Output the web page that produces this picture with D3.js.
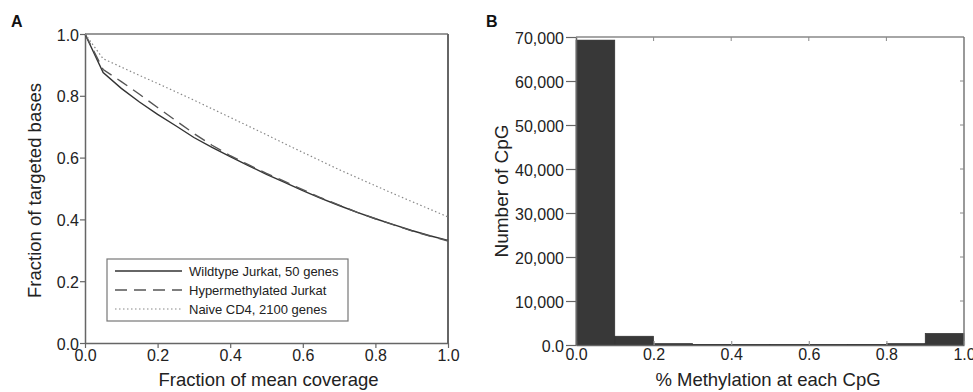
<!DOCTYPE html>
<html><head><meta charset="utf-8">
<script src="https://cdn.jsdelivr.net/npm/d3@7"></script>
<style>
body{margin:0;background:#fff;}
svg{display:block;font-family:"Liberation Sans",Arial,sans-serif;}
</style></head>
<body><svg id="c" width="973" height="392"></svg>
<script>
// Panel A data
const coverageX = [0,0.05,0.1,0.15,0.2,0.25,0.3,0.35,0.4,0.45,0.5,0.55,0.6,0.65,0.7,0.75,0.8,0.85,0.9,0.95,1.0];
const wildtype = [1,0.875,0.824,0.78,0.74,0.703,0.665,0.633,0.603,0.574,0.546,0.52,0.493,0.468,0.445,0.423,0.402,0.383,0.364,0.347,0.332];
const hyper = [1,0.885,0.846,0.805,0.762,0.72,0.678,0.64,0.606,0.577,0.549,0.523,0.496,0.47,0.446,0.423,0.402,0.382,0.363,0.346,0.33];
const naive = [1,0.92,0.893,0.866,0.84,0.813,0.786,0.758,0.73,0.702,0.674,0.645,0.617,0.589,0.561,0.535,0.509,0.483,0.458,0.433,0.408];
const seriesNames = ["Wildtype Jurkat, 50 genes","Hypermethylated Jurkat","Naive CD4, 2100 genes"];
const aTicks = [0,0.2,0.4,0.6,0.8,1.0];
const aTickLabels = ["0.0","0.2","0.4","0.6","0.8","1.0"];
// Panel B data
const binStarts = [0,0.1,0.2,0.3,0.4,0.5,0.6,0.7,0.8,0.9];
const binCounts = [69300,2000,350,150,120,120,120,150,350,2650];
const bYTicks = [0,10000,20000,30000,40000,50000,60000,70000];
const bYTickLabels = ["0.0","10,000","20,000","30,000","40,000","50,000","60,000","70,000"];
const bXTicks = [0,0.2,0.4,0.6,0.8,1.0];
const bXTickLabels = ["0.0","0.2","0.4","0.6","0.8","1.0"];

const svg = d3.select("#c");
const axisCol = "#666";
const textCol = "#222";
const tickFont = "16px";
const titleFont = "18.5px";

// ---------- Panel A ----------
const A = {l:85, r:448, t:34, b:343};
const xA = d3.scaleLinear().domain([0,1]).range([A.l, A.r]);
const yA = d3.scaleLinear().domain([0,1]).range([A.b, A.t]);
const gA = svg.append("g");
gA.append("line").attr("x1",A.l).attr("x2",A.r).attr("y1",A.t).attr("y2",A.t).attr("stroke","#777").attr("stroke-width",1.5);
gA.append("line").attr("x1",A.r).attr("x2",A.r).attr("y1",A.t).attr("y2",A.b).attr("stroke","#666").attr("stroke-width",2);
const axAx = gA.append("g").attr("transform",`translate(0,${A.b})`)
  .call(d3.axisBottom(xA).tickValues(aTicks).tickFormat((d,i)=>aTickLabels[i]).tickSize(5).tickPadding(2).tickSizeOuter(0));
const axAy = gA.append("g").attr("transform",`translate(${A.l},0)`)
  .call(d3.axisLeft(yA).tickValues(aTicks).tickFormat((d,i)=>aTickLabels[i]).tickSize(5).tickPadding(1).tickSizeOuter(0));
[axAx,axAy].forEach(a=>{
  a.select(".domain").attr("stroke",axisCol).attr("stroke-width",1.5);
  a.selectAll(".tick line").attr("stroke",axisCol).attr("stroke-width",1.2);
  a.selectAll("text").attr("fill",textCol).style("font-size",tickFont);
});
axAx.selectAll("text").attr("y",18).attr("dy",0);
axAy.selectAll("text").attr("dy","0.38em");

const styles = [
  {stroke:"#333", w:1.4, dash:null},
  {stroke:"#555", w:1.4, dash:"12,7"},
  {stroke:"#888", w:1.2, dash:"1.5,2.5"}
];
const seriesData = [wildtype, hyper, naive];
const line = d3.line().x((d,i)=>xA(coverageX[i])).y(d=>yA(d));
seriesData.forEach((s,k)=>{
  gA.append("path").datum(s).attr("d",line).attr("fill","none")
    .attr("stroke",styles[k].stroke).attr("stroke-width",styles[k].w)
    .attr("stroke-dasharray",styles[k].dash);
});
// legend
const leg = gA.append("g");
leg.append("rect").attr("x",107).attr("y",259).attr("width",241).attr("height",62)
  .attr("fill","#fff").attr("stroke","#777").attr("stroke-width",1.2);
seriesNames.forEach((n,k)=>{
  const y = 271 + k*19;
  leg.append("line").attr("x1",115).attr("x2",182).attr("y1",y).attr("y2",y)
    .attr("stroke",styles[k].stroke).attr("stroke-width",styles[k].w).attr("stroke-dasharray",styles[k].dash);
  leg.append("text").attr("x",189).attr("y",y+5).text(n).attr("fill",textCol).style("font-size","13px");
});
gA.append("text").attr("x",(A.l+A.r)/2+2).attr("y",386).attr("text-anchor","middle")
  .text("Fraction of mean coverage").attr("fill",textCol).style("font-size",titleFont);
gA.append("text").attr("transform",`translate(41,${(A.t+A.b)/2+2}) rotate(-90)`).attr("text-anchor","middle")
  .text("Fraction of targeted bases").attr("fill",textCol).style("font-size",titleFont);
gA.append("text").attr("x",11).attr("y",27).text("A").attr("fill","#111").style("font-size","16px").style("font-weight","bold");

// ---------- Panel B ----------
const B = {l:576, r:964, t:37, b:345};
const xB = d3.scaleLinear().domain([0,1]).range([B.l, B.r]);
const yB = d3.scaleLinear().domain([0,70000]).range([B.b, B.t]);
const gB = svg.append("g");
gB.selectAll("rect.bar").data(binStarts).enter().append("rect").attr("class","bar")
  .attr("x",d=>xB(d)).attr("width",d=>xB(d+0.1)-xB(d))
  .attr("y",(d,i)=>yB(binCounts[i])).attr("height",(d,i)=>B.b-yB(binCounts[i]))
  .attr("fill","#383838").attr("stroke","#2a2a2a").attr("stroke-width",0.6);
gB.append("line").attr("x1",B.l).attr("x2",B.r).attr("y1",B.t).attr("y2",B.t).attr("stroke","#888").attr("stroke-width",1.5);
gB.append("line").attr("x1",B.r).attr("x2",B.r).attr("y1",B.t).attr("y2",B.b).attr("stroke","#777").attr("stroke-width",1.5);
gB.selectAll("line.tt").data(bXTicks.slice(1,-1)).enter().append("line").attr("class","tt")
  .attr("x1",d=>xB(d)).attr("x2",d=>xB(d)).attr("y1",B.t).attr("y2",B.t+4).attr("stroke","#888");
gB.selectAll("line.rt").data(bYTicks.slice(1,-1)).enter().append("line").attr("class","rt")
  .attr("x1",B.r).attr("x2",B.r-4).attr("y1",d=>yB(d)).attr("y2",d=>yB(d)).attr("stroke","#888");
const axBx = gB.append("g").attr("transform",`translate(0,${B.b})`)
  .call(d3.axisBottom(xB).tickValues(bXTicks).tickFormat((d,i)=>bXTickLabels[i]).tickSize(-4).tickSizeOuter(0));
const axBy = gB.append("g").attr("transform",`translate(${B.l},0)`)
  .call(d3.axisLeft(yB).tickValues(bYTicks).tickFormat((d,i)=>bYTickLabels[i]).tickSize(10).tickPadding(2).tickSizeOuter(0));
[axBx,axBy].forEach(a=>{
  a.select(".domain").attr("stroke",axisCol).attr("stroke-width",1.5);
  a.selectAll(".tick line").attr("stroke",axisCol).attr("stroke-width",1.2);
  a.selectAll("text").attr("fill",textCol).style("font-size",tickFont);
});
axBx.selectAll(".tick line").attr("stroke","#999");
axBx.selectAll("text").attr("y",15).attr("dy",0);
axBy.selectAll("text").attr("dy","0.38em");
gB.append("text").attr("x",(B.l+B.r)/2-2).attr("y",386).attr("text-anchor","middle")
  .text("% Methylation at each CpG").attr("fill",textCol).style("font-size",titleFont);
gB.append("text").attr("transform",`translate(508,${(B.t+B.b)/2}) rotate(-90)`).attr("text-anchor","middle")
  .text("Number of CpG").attr("fill",textCol).style("font-size","19px");
gB.append("text").attr("x",486).attr("y",27).text("B").attr("fill","#111").style("font-size","16px").style("font-weight","bold");
</script></body></html>
